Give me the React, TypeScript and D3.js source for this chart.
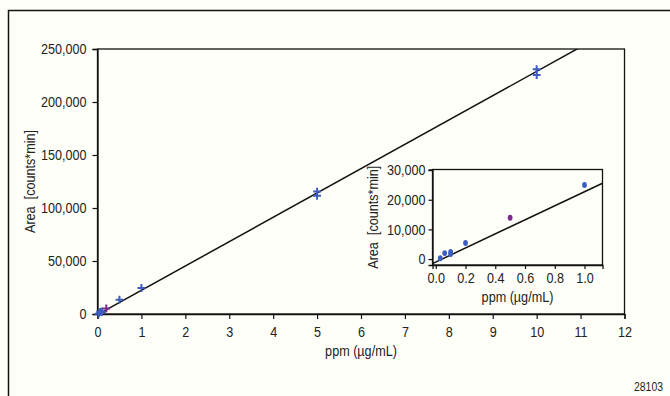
import React, { useEffect, useRef } from "react";
import * as d3 from "d3";

// tick labels
const xTicks = [0, 1, 2, 3, 4, 5, 6, 7, 8, 9, 10, 11, 12];
const yTicks = [0, 50000, 100000, 150000, 200000, 250000];
const insetXTicks = [0, 0.2, 0.4, 0.6, 0.8, 1.0];
const insetYTicks = [0, 10000, 20000, 30000];

// replicate injections, full range (ppm, area)
const mainConc = [0.03, 0.06, 0.1, 0.1, 0.2, 0.5, 1, 5, 5, 10, 10];
const mainArea = [300, 2000, 2400, 1700, 5300, 13500, 24500, 115500, 111500, 231000, 225500];
const mainGroup = ["std", "std", "std", "std", "chk", "std", "std", "std", "std", "std", "std"];

// low range, inset
const insetConc = [0.03, 0.06, 0.1, 0.1, 0.2, 0.5, 1.0];
const insetArea = [300, 2000, 2400, 1700, 5400, 13900, 25000];
const insetGroup = ["std", "std", "std", "std", "std", "chk", "std"];

// linear fits: [slope, intercept]
const mainFit = [22950, -600];
const insetFit = [23700, -1000];

const colors: Record<string, string> = { std: "#3d5cc0", chk: "#7a2b8c" };
const font = "'Liberation Sans', Arial, sans-serif";
const squeeze = 0.87; // condensed look
const bg = "#fffffa";

export default function App() {
  const ref = useRef<SVGSVGElement>(null);

  useEffect(() => {
    const svg = d3.select(ref.current);
    svg.selectAll("*").remove();

    svg.append("rect").attr("width", 670).attr("height", 396).attr("fill", bg);
    // outer frame (runs off the right and bottom edge)
    svg.append("rect")
      .attr("x", 8.5).attr("y", 10.5)
      .attr("width", 700).attr("height", 420)
      .attr("fill", bg).attr("stroke", "#111").attr("stroke-width", 1.5);

    const drawPlot = (opts: {
      left: number; right: number; top: number; bottom: number;
      xDomain: [number, number]; yDomain: [number, number];
      xt: number[]; yt: number[]; xFmt: (d: number) => string;
      conc: number[]; area: number[]; group: string[]; fit: number[];
      id: string; yTitleX: number; xTitleY: number; symbol: "plus" | "dot";
      xPad: number; yPad: number; tick: number;
    }) => {
      const x = d3.scaleLinear().domain(opts.xDomain).range([opts.left, opts.right]);
      const y = d3.scaleLinear().domain(opts.yDomain).range([opts.bottom, opts.top]);
      const g = svg.append("g");

      g.append("rect")
        .attr("x", opts.left).attr("y", opts.top)
        .attr("width", opts.right - opts.left).attr("height", opts.bottom - opts.top)
        .attr("fill", bg).attr("stroke", "#111").attr("stroke-width", 1.3);

      const xAxis = g.append("g")
        .attr("transform", `translate(0,${opts.bottom})`)
        .call(d3.axisBottom(x).tickValues(opts.xt).tickFormat(opts.xFmt as any)
          .tickSizeOuter(0).tickSize(opts.tick).tickPadding(opts.xPad));
      const yAxis = g.append("g")
        .attr("transform", `translate(${opts.left},0)`)
        .call(d3.axisLeft(y).tickValues(opts.yt).tickFormat(d3.format(",") as any)
          .tickSizeOuter(0).tickSize(opts.tick).tickPadding(opts.yPad));
      [xAxis, yAxis].forEach(a => {
        a.select(".domain").attr("stroke", "#111").attr("stroke-width", 1.3);
        a.selectAll(".tick line").attr("stroke", "#111").attr("stroke-width", 1.2);
        a.selectAll("text").attr("font-family", font).attr("font-size", 14.5).attr("fill", "#222");
      });

      g.append("clipPath").attr("id", opts.id)
        .append("rect")
        .attr("x", opts.left).attr("y", opts.top)
        .attr("width", opts.right - opts.left).attr("height", opts.bottom - opts.top);

      const line = d3.line<number>().x(d => x(d)).y(d => y(opts.fit[0] * d + opts.fit[1]));
      g.append("path")
        .datum(opts.xDomain)
        .attr("d", line)
        .attr("clip-path", `url(#${opts.id})`)
        .attr("fill", "none").attr("stroke", "#111").attr("stroke-width", 1.5);

      const pts = opts.conc.map((c, i) => ({ c, a: opts.area[i], grp: opts.group[i] }));
      if (opts.symbol === "plus") {
        g.selectAll("path.pt").data(pts).join("path")
          .attr("class", "pt")
          .attr("transform", d => `translate(${x(d.c)},${y(d.a)})`)
          .attr("d", d3.symbol(d3.symbolPlus, 22)() as string)
          .attr("fill", "none")
          .attr("stroke", d => colors[d.grp]).attr("stroke-width", 2);
      } else {
        g.selectAll("ellipse.pt").data(pts).join("ellipse")
          .attr("class", "pt")
          .attr("cx", d => x(d.c)).attr("cy", d => y(d.a))
          .attr("rx", 2.4).attr("ry", 3)
          .attr("fill", d => colors[d.grp]);
      }

      g.append("text")
        .attr("transform", `translate(${opts.yTitleX},${(opts.top + opts.bottom) / 2}) rotate(-90)`)
        .attr("text-anchor", "middle")
        .attr("font-family", font).attr("font-size", 14.5).attr("fill", "#222")
        .style("white-space", "pre")
        .text("Area  [counts*min]");
      g.append("text")
        .attr("x", (opts.left + opts.right) / 2).attr("y", opts.xTitleY)
        .attr("text-anchor", "middle")
        .attr("font-family", font).attr("font-size", 14.5).attr("fill", "#222")
        .text("ppm (µg/mL)");
    };

    drawPlot({
      left: 97.5, right: 624.5, top: 49, bottom: 314,
      xDomain: [0, 12], yDomain: [0, 250000],
      xt: xTicks, yt: yTicks, xFmt: d => String(d),
      conc: mainConc, area: mainArea, group: mainGroup, fit: mainFit,
      id: "clipMain", yTitleX: 35, xTitleY: 356, symbol: "plus",
      xPad: 7.5, yPad: 6, tick: 5,
    });

    drawPlot({
      left: 432.5, right: 602.5, top: 169.5, bottom: 265,
      xDomain: [-0.022, 1.121], yDomain: [-2000, 30200],
      xt: insetXTicks, yt: insetYTicks, xFmt: d => d3.format(".1f")(d),
      conc: insetConc, area: insetArea, group: insetGroup, fit: insetFit,
      id: "clipInset", yTitleX: 378, xTitleY: 302, symbol: "dot",
      xPad: 3.5, yPad: 3, tick: 4,
    });

    svg.append("text")
      .attr("x", 634).attr("y", 391)
      .attr("font-family", font).attr("font-size", 12).attr("fill", "#222")
      .text("28103");

    // narrow every label to match the condensed face of the original
    svg.selectAll<SVGTextElement, unknown>("text").each(function () {
      const len = this.getComputedTextLength();
      this.setAttribute("textLength", String(len * squeeze));
      this.setAttribute("lengthAdjust", "spacingAndGlyphs");
    });
  }, []);

  return (
    <svg ref={ref} width={670} height={396}
      style={{ position: "absolute", left: 0, top: 0, display: "block" }} />
  );
}
